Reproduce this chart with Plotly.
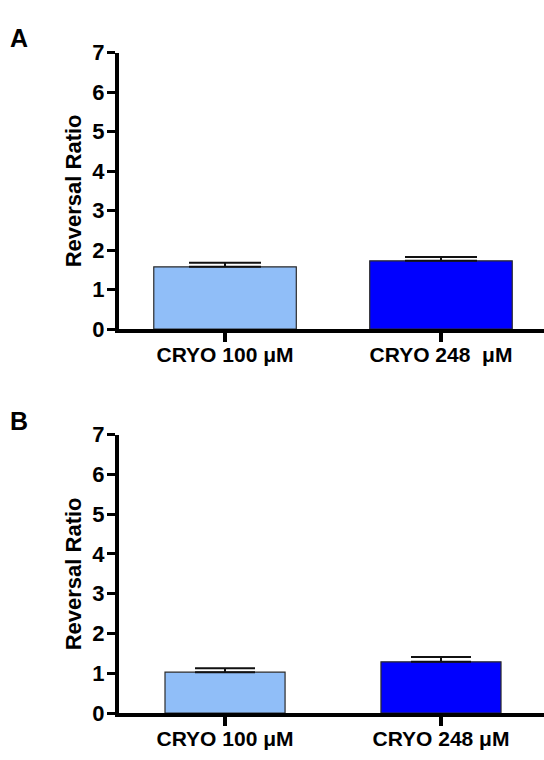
import plotly.graph_objects as go

# Data
categories_a = ["CRYO 100 μM", "CRYO 248\u00a0 μM"]
values_a = [1.58, 1.73]
errors_a = [0.10, 0.10]

categories_b = ["CRYO 100 μM", "CRYO 248 μM"]
values_b = [1.03, 1.29]
errors_b = [0.10, 0.12]

y_ticks = [0, 1, 2, 3, 4, 5, 6, 7]
bar_colors = ["#90BEF8", "#0000FF"]
panel_labels = ["A", "B"]

W, H = 544, 760
FONT = "Liberation Sans, Arial, Helvetica, sans-serif"

fig = go.Figure()

fig.add_trace(go.Bar(
    x=categories_a, y=values_a, xaxis="x", yaxis="y",
    width=0.66,
    marker=dict(color=bar_colors, line=dict(color="#2a2a2a", width=1.2)),
    error_y=dict(type="data", array=errors_a, arrayminus=[0, 0], symmetric=False,
                 color="#111111", thickness=2, width=36),
    showlegend=False, hoverinfo="skip",
))
fig.add_trace(go.Bar(
    x=categories_b, y=values_b, xaxis="x2", yaxis="y2",
    width=0.556,
    marker=dict(color=bar_colors, line=dict(color="#2a2a2a", width=1.2)),
    error_y=dict(type="data", array=errors_b, arrayminus=[0, 0], symmetric=False,
                 color="#111111", thickness=2, width=30),
    showlegend=False, hoverinfo="skip",
))

def px_x(v):
    return v / W

def px_y(v):
    return 1 - v / H

xdom = [px_x(119), 1.0]
xrange_ = [-0.491, 1.477]

xaxis_common = dict(
    domain=xdom, range=xrange_, type="category",
    showline=True, linewidth=4, linecolor="black",
    ticks="outside", ticklen=9, tickwidth=3.5, tickcolor="black",
    ticklabelstandoff=-5,
    tickfont=dict(family=FONT, size=21, color="black", weight="bold"),
    showgrid=False, zeroline=False, fixedrange=True,
)
yaxis_common = dict(
    range=[0, 7], tickvals=y_ticks,
    showline=True, linewidth=4, linecolor="black",
    ticks="outside", ticklen=8, tickwidth=3, tickcolor="black",
    ticklabelstandoff=-2,
    tickfont=dict(family=FONT, size=22, color="black", weight="bold"),
    showgrid=False, zeroline=False, fixedrange=True,
    title=dict(text="Reversal Ratio", standoff=6,
               font=dict(family=FONT, size=22, color="black", weight="bold")),
)

fig.update_layout(
    width=W, height=H,
    margin=dict(l=0, r=0, t=0, b=0),
    paper_bgcolor="white", plot_bgcolor="white",
    bargap=0.3,
    xaxis=dict(anchor="y", **xaxis_common),
    yaxis=dict(anchor="x", domain=[px_y(328), px_y(42)], **yaxis_common),
    xaxis2=dict(anchor="y2", **xaxis_common),
    yaxis2=dict(anchor="x2", domain=[px_y(725), px_y(437)], **yaxis_common),
    annotations=[
        dict(text=panel_labels[0], x=px_x(19), y=px_y(27), xref="paper", yref="paper",
             showarrow=False, xanchor="center", yanchor="middle",
             font=dict(family=FONT, size=25, color="black", weight="bold")),
        dict(text=panel_labels[1], x=px_x(19), y=px_y(423), xref="paper", yref="paper",
             showarrow=False, xanchor="center", yanchor="middle",
             font=dict(family=FONT, size=25, color="black", weight="bold")),
    ],
)

fig.write_html(
    "out.html",
    config={"displayModeBar": False},
    post_script="document.body.style.margin='0';document.body.style.overflow='hidden';",
)
